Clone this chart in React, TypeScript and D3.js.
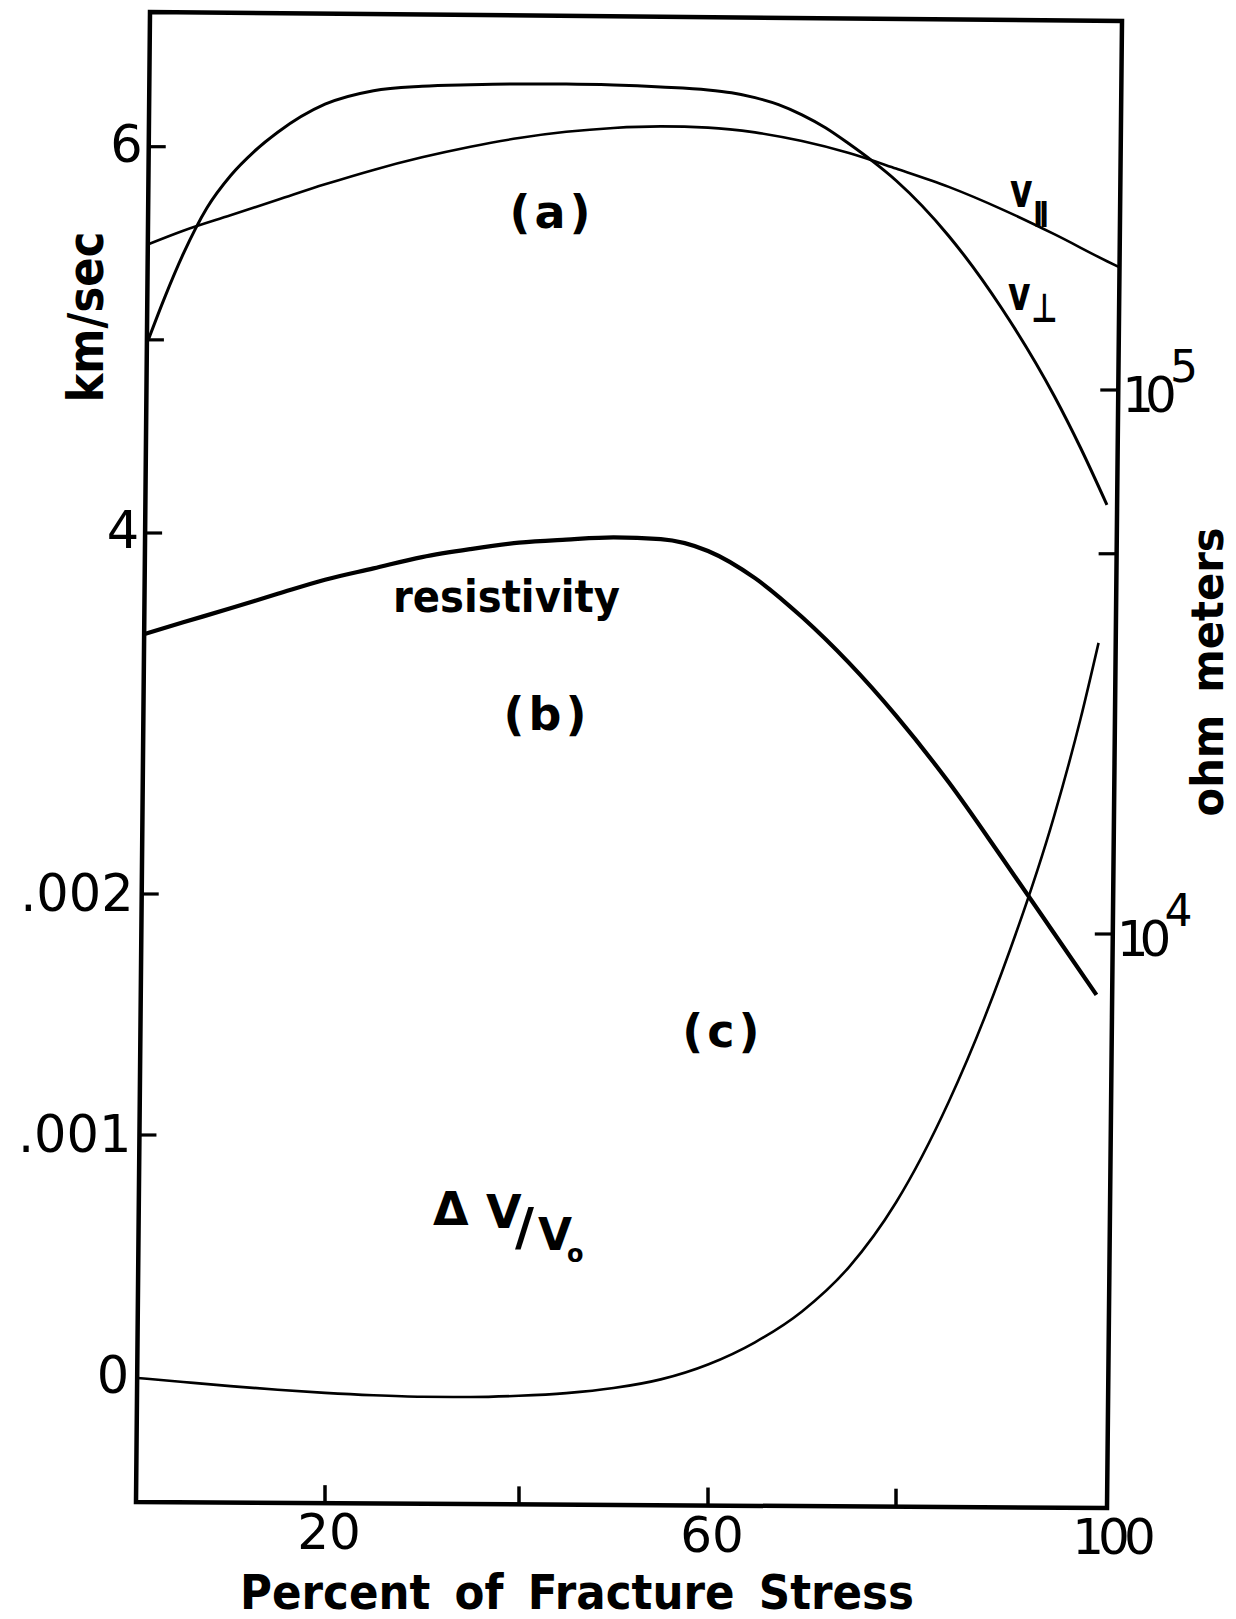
import React from "react";
import * as d3 from "d3";

const WIDTH = 1236;
const HEIGHT = 1619;
const FONT = "'DejaVu Sans', sans-serif";

// Stress axis was ruled by hand: tick values and their positions along the bottom edge
const STRESS_TICKS = [0, 20, 40, 60, 80, 100];
const STRESS_TICK_PX = [136, 325, 519, 708, 896, 1107];
const STRESS_MARKS = [20, 40, 60, 80];
const STRESS_LABELS = [20, 60, 100];

// Left axis: velocity (km/sec) above, strain dV/V0 below
const VEL_TICKS = [6, 5, 4];
const VEL_LABELS = [6, 4];
const DV_TICKS = [0.002, 0.001];
const DV_LABELS = [0.002, 0.001, 0];

// Right axis: resistivity (ohm meters), logarithmic
const RES_TICKS = [1e5, 5e4, 1e4];
const RES_LABELS = [1e5, 1e4];

// (a) P-wave velocity parallel to the load
const STRESS_VPAR = [1.3, 5, 10, 15, 20, 25, 30, 35, 40, 45, 50, 55, 60, 65, 70, 75, 80, 85, 90, 95, 100, 101.2];
const V_PARALLEL = [5.495, 5.565, 5.645, 5.725, 5.805, 5.88, 5.945, 6.0, 6.045, 6.077, 6.097, 6.105, 6.099, 6.074, 6.029, 5.967, 5.887, 5.792, 5.677, 5.547, 5.407, 5.375];

// (a) P-wave velocity perpendicular to the load
const STRESS_VPERP = [1.3, 3, 5, 7.5, 10, 12.5, 15, 20, 25, 30, 35, 40, 45, 50, 55, 60, 62.5, 65, 67.5, 70, 72.5, 75, 77.5, 80, 85, 90, 95, 97.5, 100];
const V_PERP = [5.0, 5.215, 5.445, 5.683, 5.85, 5.975, 6.075, 6.22, 6.29, 6.313, 6.321, 6.325, 6.324, 6.319, 6.309, 6.294, 6.279, 6.254, 6.218, 6.165, 6.098, 6.015, 5.925, 5.825, 5.538, 5.165, 4.709, 4.44, 4.145];

// (b) electrical resistivity
const STRESS_RES = [0.9, 5, 10, 15, 20, 25, 30, 35, 40, 45, 50, 55, 60, 65, 70, 75, 80, 85, 90, 95, 99];
const RESISTIVITY = [35600, 37400, 39700, 42200, 44800, 47000, 49300, 51000, 52400, 53100, 53600, 53200, 50600, 45100, 38250, 31500, 25200, 19000, 13850, 10020, 7730];

// (c) volumetric strain dV/V0
const STRESS_DV = [0.15, 5, 10, 15, 20, 25, 30, 35, 40, 45, 50, 55, 60, 65, 70, 75, 80, 85, 90, 95, 97.5, 99.2];
const DILATANCY = [-0.000008, -0.000025, -0.000042, -0.000057, -0.00007, -0.00008, -0.000086, -0.000087, -0.000082, -0.000071, -0.00005, -0.000014, 0.000048, 0.00014, 0.000268, 0.000452, 0.00072, 0.001138, 0.001671, 0.002325, 0.002728, 0.003042];

export default function App() {
  const x = d3.scaleLinear().domain(STRESS_TICKS).range(STRESS_TICK_PX);
  const yVel = d3.scaleLinear().domain([4, 6]).range([533, 146.7]);
  const yDv = d3.scaleLinear().domain([0, 0.002]).range([1376, 894]);
  const yRes = d3.scaleLog().domain([1e4, 1e5]).range([934, 390]);

  // The frame leans slightly, as drawn
  const bl: [number, number] = [x(0), 1502];
  const br: [number, number] = [x(100), 1508];
  const tl: [number, number] = [x(0) + 14, 12];
  const tr: [number, number] = [x(100) + 15, 21];
  const leftX = (y: number) => bl[0] + ((tl[0] - bl[0]) * (y - bl[1])) / (tl[1] - bl[1]);
  const rightX = (y: number) => br[0] + ((tr[0] - br[0]) * (y - br[1])) / (tr[1] - br[1]);
  const bottomY = (px: number) => bl[1] + ((br[1] - bl[1]) * (px - bl[0])) / (br[0] - bl[0]);

  const path = (xs: number[], ys: number[], yScale: (v: number) => number) =>
    d3
      .line<number>()
      .x((_, i) => x(xs[i]))
      .y((d) => yScale(d))
      .curve(d3.curveMonotoneX)(ys) || "";

  const fmtDv = (v: number) => (v === 0 ? "0" : d3.format(".3f")(v).replace(/^0/, ""));

  return (
    <svg
      width={WIDTH}
      height={HEIGHT}
      style={{ position: "absolute", left: 0, top: 0, background: "#fff" }}
      fontFamily={FONT}
    >
      <rect width={WIDTH} height={HEIGHT} fill="#fff" />

      {/* frame */}
      <path
        d={`M${bl[0]},${bl[1]}L${tl[0]},${tl[1]}L${tr[0]},${tr[1]}L${br[0]},${br[1]}Z`}
        fill="none"
        stroke="#000"
        strokeWidth={4.5}
        strokeLinejoin="miter"
      />

      {/* bottom ticks */}
      {STRESS_MARKS.map((v) => {
        const px = x(v);
        const y0 = bottomY(px);
        return <line key={v} x1={px} x2={px} y1={y0} y2={y0 - 18} stroke="#000" strokeWidth={3.5} />;
      })}
      {STRESS_LABELS.map((v) => (
        <text
          key={v}
          x={x(v) + 4}
          y={bottomY(x(v)) + 46}
          fontSize={50}
          textAnchor="middle"
          letterSpacing={String(v).includes("1") ? -6 : 0}
        >
          {v}
        </text>
      ))}

      {/* left ticks */}
      {VEL_TICKS.map((v) => {
        const y = yVel(v);
        const lx = leftX(y);
        return <line key={v} x1={lx} x2={lx + 17} y1={y} y2={y} stroke="#000" strokeWidth={3.2} />;
      })}
      {DV_TICKS.map((v) => {
        const y = yDv(v);
        const lx = leftX(y);
        return <line key={v} x1={lx} x2={lx + 17} y1={y} y2={y} stroke="#000" strokeWidth={3.2} />;
      })}
      {VEL_LABELS.map((v) => {
        const y = yVel(v);
        return (
          <text key={v} x={leftX(y) - 6} y={y + 15} fontSize={51} textAnchor="end">
            {v}
          </text>
        );
      })}
      {DV_LABELS.map((v) => {
        const y = yDv(v);
        return (
          <text key={v} x={leftX(y) - 8} y={y + 17} fontSize={51} textAnchor="end">
            {fmtDv(v)}
          </text>
        );
      })}

      {/* right ticks */}
      {RES_TICKS.map((v) => {
        const y = yRes(v);
        const rx = rightX(y);
        return <line key={v} x1={rx - 18} x2={rx} y1={y} y2={y} stroke="#000" strokeWidth={3.2} />;
      })}
      {RES_LABELS.map((v) => {
        const y = yRes(v);
        const rx = rightX(y);
        return (
          <text key={v} x={rx + 4} y={y + 22} fontSize={50}>
            <tspan letterSpacing={-9}>10</tspan>
            <tspan fontSize={44} dy={-30} dx={2}>
              {Math.round(Math.log10(v))}
            </tspan>
          </text>
        );
      })}

      {/* curves */}
      <path d={path(STRESS_VPAR, V_PARALLEL, yVel)} fill="none" stroke="#000" strokeWidth={2.6} />
      <path d={path(STRESS_VPERP, V_PERP, yVel)} fill="none" stroke="#000" strokeWidth={3} />
      <path d={path(STRESS_RES, RESISTIVITY, yRes)} fill="none" stroke="#000" strokeWidth={4.2} />
      <path d={path(STRESS_DV, DILATANCY, yDv)} fill="none" stroke="#000" strokeWidth={2.6} />

      {/* axis titles */}
      <text
        x={240}
        y={1609}
        fontSize={48}
        fontWeight="bold"
        textLength={674}
        lengthAdjust="spacingAndGlyphs"
        wordSpacing={10}
      >
        Percent of Fracture Stress
      </text>
      <text
        transform="translate(103,317) rotate(-90)"
        fontSize={50}
        fontWeight="bold"
        textAnchor="middle"
        textLength={171}
        lengthAdjust="spacingAndGlyphs"
      >
        km/sec
      </text>
      <text
        transform="translate(1223,672) rotate(-90)"
        fontSize={44}
        fontWeight="bold"
        textAnchor="middle"
        textLength={289}
        lengthAdjust="spacingAndGlyphs"
        wordSpacing={8}
      >
        ohm meters
      </text>

      {/* panel labels */}
      <text x={552} y={228} fontSize={46} fontWeight="bold" textAnchor="middle" letterSpacing={4}>
        (a)
      </text>
      <text x={547} y={730} fontSize={46} fontWeight="bold" textAnchor="middle" letterSpacing={4}>
        (b)
      </text>
      <text x={723} y={1047} fontSize={46} fontWeight="bold" textAnchor="middle" letterSpacing={4}>
        (c)
      </text>
      <text x={393} y={612} fontSize={44} fontWeight="bold" textLength={227} lengthAdjust="spacingAndGlyphs">
        resistivity
      </text>

      {/* curve names */}
      <text transform="translate(1010,207) scale(0.72,1)" fontSize={48} fontWeight="bold">
        v
        <tspan fontSize={36} dy={20} dx={1} letterSpacing={-5}>
          II
        </tspan>
      </text>
      <text transform="translate(1008,310) scale(0.72,1)" fontSize={48} fontWeight="bold">
        v
        <tspan fontSize={40} dy={12} dx={1}>
          ⊥
        </tspan>
      </text>

      {/* dV/V0 */}
      <text fontWeight="bold">
        <tspan x={433} y={1225} fontSize={46}>
          Δ
        </tspan>
        <tspan x={486} y={1228} fontSize={46}>
          V
        </tspan>
        <tspan x={515} y={1245} fontSize={52}>
          /
        </tspan>
        <tspan x={538} y={1250} fontSize={44}>
          V
        </tspan>
        <tspan x={567} y={1262} fontSize={24}>
          o
        </tspan>
      </text>
    </svg>
  );
}
